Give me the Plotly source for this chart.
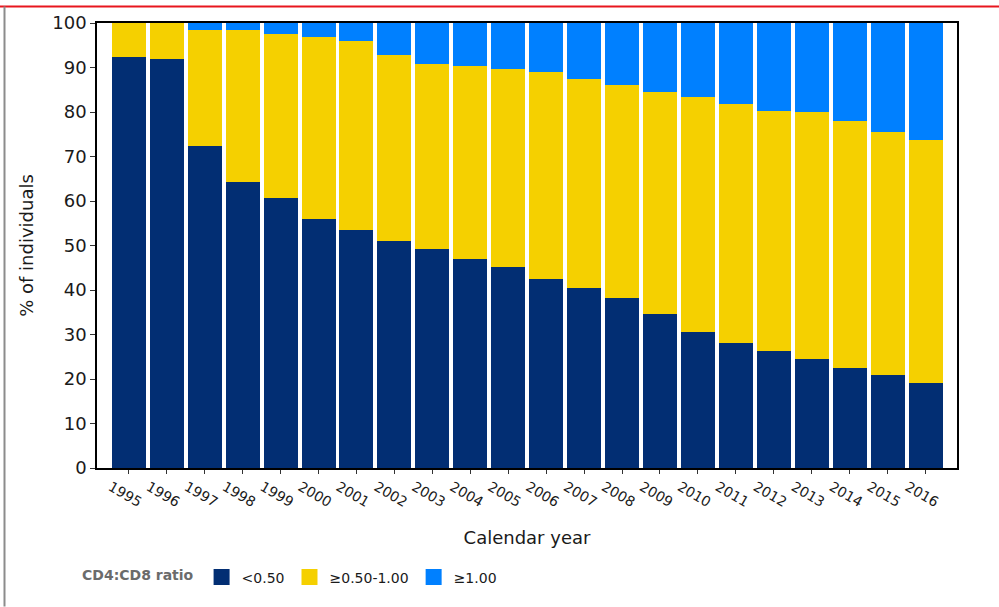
import plotly.graph_objects as go

years = ["1995", "1996", "1997", "1998", "1999", "2000", "2001", "2002", "2003", "2004", "2005",
         "2006", "2007", "2008", "2009", "2010", "2011", "2012", "2013", "2014", "2015", "2016"]

# % of individuals per CD4:CD8 ratio category
below_050 = [92.4, 91.9, 72.3, 64.2, 60.6, 55.9, 53.5, 51.0, 49.2, 47.0, 45.2,
             42.5, 40.5, 38.3, 34.5, 30.6, 28.0, 26.4, 24.4, 22.4, 21.0, 19.0]
mid_050_100 = [7.6, 8.1, 26.1, 34.2, 37.0, 41.0, 42.5, 41.8, 41.6, 43.4, 44.5,
               46.6, 47.0, 47.8, 50.1, 52.8, 53.7, 53.9, 55.7, 55.5, 54.4, 54.6]
above_100 = [0.0, 0.0, 1.6, 1.6, 2.4, 3.1, 4.0, 7.2, 9.2, 9.6, 10.3,
             10.9, 12.5, 13.9, 15.4, 16.6, 18.3, 19.7, 19.9, 22.1, 24.6, 26.4]

series_names = ["<0.50", "≥0.50-1.00", "≥1.00"]
series_colors = ["#022E73", "#F5D000", "#0080FF"]
series_values = [below_050, mid_050_100, above_100]

FONT = "DejaVu Sans"

fig = go.Figure()
for name, color, vals in zip(series_names, series_colors, series_values):
    fig.add_trace(go.Bar(x=years, y=vals, name=name, showlegend=False,
                         marker=dict(color=color, line=dict(width=0))))
# legend entries with larger square keys
for name, color in zip(series_names, series_colors):
    fig.add_trace(go.Scatter(x=[None], y=[None], mode="markers", name=name,
                             marker=dict(symbol="square", size=16, color=color)))

# page decoration: red top rule and grey left border
W, H = 999, 607
L, R, T, B = 97, 42, 21, 139
pw, ph = W - L - R, H - T - B
def px(x):
    return (x - L) / pw
def py(y):
    return (H - B - y) / ph

fig.add_shape(type="line", xref="paper", yref="paper", x0=px(0), x1=px(W), y0=py(4.5), y1=py(4.5),
              line=dict(color="#E8161E", width=2))
fig.add_shape(type="line", xref="paper", yref="paper", x0=px(4.5), x1=px(4.5), y0=py(4.5), y1=py(H),
              line=dict(color="#8C8C8C", width=2))

fig.update_layout(
    barmode="stack",
    bargap=0.104,
    width=W, height=H,
    margin=dict(l=L, r=R, t=T, b=B),
    paper_bgcolor="white",
    plot_bgcolor="white",
    font=dict(family=FONT, color="#1a1a1a"),
    showlegend=True,
    legend=dict(
        orientation="h",
        x=px(80), xanchor="left",
        y=py(578), yanchor="middle",
        itemsizing="trace",
        title=dict(text="<b>CD4:CD8 ratio</b>", font=dict(family=FONT, size=14, color="#6b6b6b"), side="left"),
        font=dict(family=FONT, size=14, color="#1a1a1a"),
        traceorder="normal",
    ),
    xaxis=dict(
        type="category",
        range=[-0.84, 21.83],
        showline=True, linecolor="black", linewidth=1.5, mirror=True,
        ticks="outside", ticklen=4, tickcolor="#333",
        tickangle=30,
        ticklabelshift=-18,
        tickfont=dict(family=FONT, size=14, color="#1a1a1a"),
        showgrid=False,
        title=dict(text="Calendar year", font=dict(family=FONT, size=18, color="#1a1a1a"), standoff=22),
    ),
    yaxis=dict(
        range=[0, 100],
        dtick=10,
        showline=True, linecolor="black", linewidth=1.5, mirror=True,
        ticks="outside", ticklen=5, tickcolor="#333",
        tickfont=dict(family=FONT, size=18, color="#1a1a1a"),
        showgrid=False, zeroline=False,
        title=dict(text="% of individuals", font=dict(family=FONT, size=18, color="#1a1a1a"), standoff=14),
    ),
)

fig.write_html("out.html", config={"displayModeBar": False},
               post_script="document.body.style.margin='0px';")
